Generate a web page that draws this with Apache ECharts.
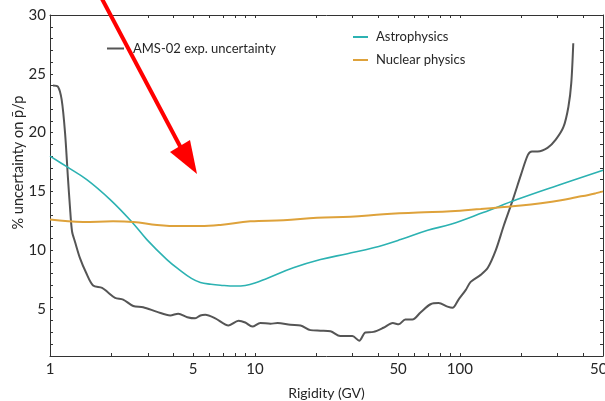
<!DOCTYPE html>
<html>
<head>
<meta charset="utf-8">
<script src="https://cdn.jsdelivr.net/npm/echarts@6/dist/echarts.min.js"></script>
<style>
  html, body { margin: 0; padding: 0; background: #fff; }
  #chart { width: 605px; height: 401px; }
</style>
</head>
<body>
<div id="chart"></div>
<script>
// AMS-02 experimental uncertainty (%) vs rigidity (GV)
const amsRigidity = [1.034,1.094,1.14,1.184,1.225,1.25,1.281,1.325,1.402,1.499,
  1.623,1.796,1.921,2.078,2.275,2.548,2.849,3.335,3.862,4.225,
  4.677,5.113,5.42,5.73,6.41,7.44,8.32,8.97,9.72,10.63,
  11.92,12.9,14.9,16.7,18.67,20.9,23.4,26.1,29.9,32.3,
  34.6,37.9,42.4,47.1,50.4,54.2,58.7,64.3,72.0,78.8,
  87.1,92.1,98.6,106.8,113.0,126.5,137.0,149.9,164.0,181.6,
  198.8,215,225,240,268,294,321,339,350,358];
const amsUncertainty = [24.0,23.9,22.8,20.0,16.0,13.8,11.6,10.7,9.3,8.1,
  7.0,6.8,6.4,5.95,5.8,5.25,5.15,4.75,4.45,4.6,
  4.3,4.2,4.45,4.5,4.2,3.6,4.0,3.85,3.5,3.8,
  3.75,3.8,3.65,3.6,3.2,3.15,3.1,2.7,2.7,2.3,
  3.0,3.05,3.4,3.8,3.7,4.1,4.1,4.7,5.4,5.5,
  5.2,5.1,5.8,6.6,7.3,7.9,8.5,10.0,12.1,14.3,
  16.4,18.1,18.4,18.4,18.7,19.4,20.5,22.2,24.2,27.6];

// Astrophysical propagation uncertainty (%)
const astroRigidity = [1,1.207,1.512,1.966,2.51,2.97,3.72,4.3,4.9,5.42,6.1,6.78,8.0,8.97,10,11.45,15.4,20.9,28.3,37.9,51.4,69.7,90.4,130,190,300,500];
const astroUncertainty = [18.0,17.1,16.0,14.3,12.4,10.9,9.2,8.3,7.6,7.25,7.1,7.02,6.95,7.0,7.2,7.6,8.5,9.2,9.7,10.2,10.9,11.7,12.2,13.2,14.3,15.5,16.8];

// Nuclear cross-section uncertainty (%)
const nuclearRigidity = [1,1.45,2.03,2.55,3.33,4.32,5.42,6.78,9.5,13.8,20.1,29.3,42.4,62.5,90.4,126.5,158.7,198.8,249,312,370,425,463,500];
const nuclearUncertainty = [12.6,12.4,12.45,12.4,12.15,12.05,12.05,12.15,12.45,12.55,12.75,12.85,13.05,13.2,13.3,13.5,13.65,13.8,14.0,14.25,14.5,14.7,14.85,15.0];

// Axis ticks
const xLabelValues = [1, 5, 10, 50, 100, 500];
const xTickValues = [1,2,3,4,5,6,7,8,9,10,20,30,40,50,60,70,80,90,100,200,300,400,500];
const yLabelStep = 5;

const pairs = (xs, ys) => xs.map((x, i) => [x, ys[i]]);

const FONT = 'Lato, "Open Sans", sans-serif';
const TEXT = '#262626';
const LINE = '#333';

const chart = echarts.init(document.getElementById('chart'), null, { renderer: 'canvas' });

const xBase = {
  type: 'log', logBase: 10, min: 1, max: 500,
  axisLine: { show: true, onZero: false, lineStyle: { color: LINE, width: 1 } },
  splitLine: { show: false },
  minorTick: { show: false }
};
const yBase = {
  type: 'value', min: 1, max: 30, interval: 1,
  axisLine: { show: true, onZero: false, lineStyle: { color: LINE, width: 1 } },
  splitLine: { show: false },
  axisTick: { show: true, inside: true, length: 3, lineStyle: { color: LINE } }
};

chart.setOption({
  animation: false,
  backgroundColor: '#fff',
  grid: { left: 50, right: 2, top: 15, bottom: 45, containLabel: false, outerBoundsMode: 'none' },
  xAxis: [
    Object.assign({}, xBase, {
      position: 'bottom',
      name: 'Rigidity (GV)', nameLocation: 'middle', nameGap: 30,
      nameTextStyle: { fontFamily: FONT, fontSize: 14, color: TEXT },
      axisTick: { show: true, inside: true, length: 3, customValues: xTickValues, lineStyle: { color: LINE } },
      axisLabel: { show: true, customValues: xLabelValues, fontFamily: FONT, fontSize: 15, color: TEXT, margin: 6,
        hideOverlap: false, formatter: v => String(Math.round(v)) }
    }),
    Object.assign({}, xBase, {
      position: 'top',
      axisTick: { show: true, inside: true, length: 3, customValues: xTickValues, lineStyle: { color: LINE } },
      axisLabel: { show: false }
    })
  ],
  yAxis: [
    Object.assign({}, yBase, {
      position: 'left',
      name: '% uncertainty on p\u0304/p', nameLocation: 'middle', nameGap: 24, nameMoveOverlap: false,
      nameTextStyle: { fontFamily: FONT, fontSize: 14.5, color: TEXT, padding: [0, 0, 0, 46] },
      axisLabel: { show: true, fontFamily: FONT, fontSize: 15, color: TEXT, margin: 4,
        formatter: v => (v % yLabelStep === 0 ? String(v) : '') }
    }),
    Object.assign({}, yBase, {
      position: 'right',
      axisLabel: { show: false }
    })
  ],
  legend: [
    {
      data: ['AMS-02 exp. uncertainty'],
      left: 107, top: 42, padding: 0,
      icon: 'rect', itemWidth: 17, itemHeight: 2,
      selectedMode: false,
      textStyle: { fontFamily: FONT, fontSize: 13, color: TEXT, padding: [0, 0, 0, 4] }
    },
    {
      data: ['Astrophysics', 'Nuclear physics'],
      orient: 'vertical',
      left: 353, top: 29, itemGap: 7, padding: 0,
      icon: 'rect', itemWidth: 15, itemHeight: 2,
      selectedMode: false,
      textStyle: { fontFamily: FONT, fontSize: 13, color: TEXT, lineHeight: 16, padding: [0, 0, 0, 3] }
    }
  ],
  series: [
    {
      name: 'AMS-02 exp. uncertainty', type: 'line',
      data: pairs(amsRigidity, amsUncertainty),
      smooth: 0.3, symbol: 'none',
      lineStyle: { color: '#555', width: 2 }, itemStyle: { color: '#555' }
    },
    {
      name: 'Astrophysics', type: 'line',
      data: pairs(astroRigidity, astroUncertainty),
      smooth: 0.4, symbol: 'none',
      lineStyle: { color: '#2cb2b2', width: 1.6 }, itemStyle: { color: '#2cb2b2' }
    },
    {
      name: 'Nuclear physics', type: 'line',
      data: pairs(nuclearRigidity, nuclearUncertainty),
      smooth: 0.4, symbol: 'none',
      lineStyle: { color: '#dea23b', width: 2 }, itemStyle: { color: '#dea23b' }
    }
  ],
  // Red pointer arrow
  graphic: [
    {
      type: 'line', z: 100,
      shape: { x1: 101, y1: -3, x2: 181, y2: 148 },
      style: { stroke: '#ff0000', lineWidth: 4 }
    },
    {
      type: 'polygon', z: 100,
      shape: { points: [[170, 152], [190, 140], [197, 174]] },
      style: { fill: '#ff0000' }
    }
  ]
});
</script>
</body>
</html>
